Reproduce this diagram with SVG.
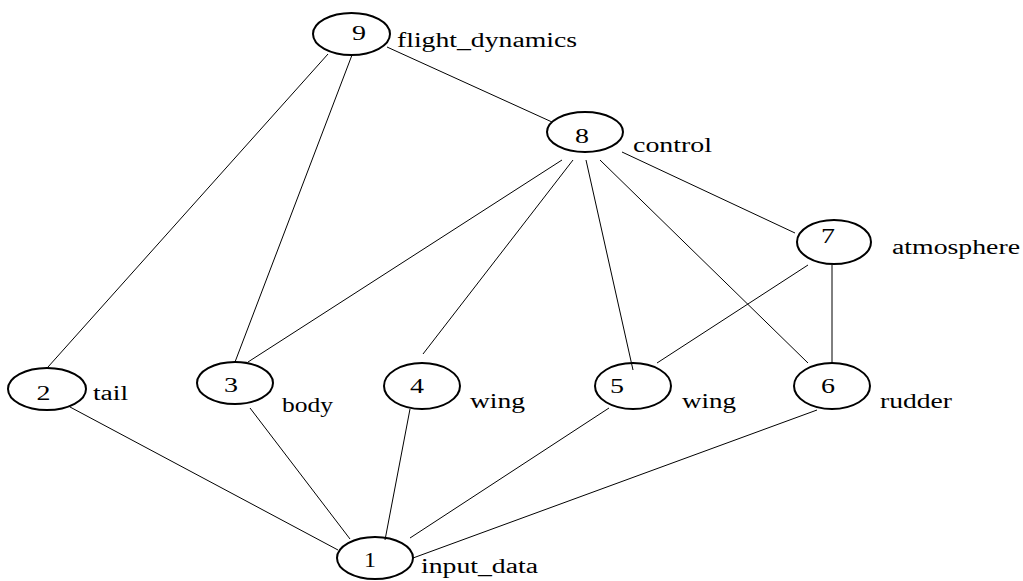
<svg xmlns="http://www.w3.org/2000/svg" width="1023" height="581" viewBox="0 0 1023 581">
<style>
.n ellipse{fill:none;stroke:#000;stroke-width:2}
.e line{stroke:#000;stroke-width:1}
text{font-family:"Liberation Serif","Times New Roman",serif;font-size:20px;fill:#000}
.d{text-anchor:middle}
</style>
<rect width="1023" height="581" fill="#fff"/>
<g class="e" id="edges">
<line x1="328" y1="54" x2="48" y2="367"/>
<line x1="352" y1="55" x2="235" y2="362"/>
<line x1="387" y1="47" x2="552" y2="122"/>
<line x1="562" y1="160" x2="248" y2="362"/>
<line x1="573" y1="160" x2="423" y2="354"/>
<line x1="586" y1="160" x2="633" y2="370"/>
<line x1="600" y1="160" x2="808" y2="363"/>
<line x1="622" y1="152" x2="795" y2="233"/>
<line x1="808" y1="265" x2="657" y2="363"/>
<line x1="832" y1="265" x2="832" y2="362"/>
<line x1="70" y1="407" x2="338" y2="550"/>
<line x1="250" y1="408" x2="350" y2="539"/>
<line x1="410" y1="409" x2="385" y2="540"/>
<line x1="609" y1="408" x2="410" y2="538"/>
<line x1="817" y1="410" x2="413" y2="558"/>
</g>
<g class="n" id="node9"><ellipse cx="351.5" cy="34" rx="38.5" ry="21"/><text class="d" x="359" y="40" textLength="14" lengthAdjust="spacingAndGlyphs">9</text><text x="397" y="47" textLength="180" lengthAdjust="spacingAndGlyphs">flight_dynamics</text></g>
<g class="n" id="node8"><ellipse cx="585" cy="132" rx="38" ry="20"/><text class="d" x="582" y="143" textLength="14" lengthAdjust="spacingAndGlyphs">8</text><text x="633" y="152" textLength="79" lengthAdjust="spacingAndGlyphs">control</text></g>
<g class="n" id="node7"><ellipse cx="834" cy="242" rx="37" ry="22"/><text class="d" x="828" y="243" textLength="14" lengthAdjust="spacingAndGlyphs">7</text><text x="892" y="254" textLength="128" lengthAdjust="spacingAndGlyphs">atmosphere</text></g>
<g class="n" id="node2"><ellipse cx="47" cy="389" rx="39" ry="21"/><text class="d" x="43.5" y="400" textLength="14" lengthAdjust="spacingAndGlyphs">2</text><text x="93" y="400" textLength="35" lengthAdjust="spacingAndGlyphs">tail</text></g>
<g class="n" id="node3"><ellipse cx="235" cy="383" rx="38" ry="21"/><text class="d" x="231" y="392" textLength="14" lengthAdjust="spacingAndGlyphs">3</text><text x="282" y="412" textLength="51" lengthAdjust="spacingAndGlyphs">body</text></g>
<g class="n" id="node4"><ellipse cx="422" cy="386" rx="38" ry="23"/><text class="d" x="417" y="393" textLength="14" lengthAdjust="spacingAndGlyphs">4</text><text x="470" y="408" textLength="55" lengthAdjust="spacingAndGlyphs">wing</text></g>
<g class="n" id="node5"><ellipse cx="633" cy="386" rx="38" ry="23"/><text class="d" x="617" y="393" textLength="14" lengthAdjust="spacingAndGlyphs">5</text><text x="682" y="408" textLength="54" lengthAdjust="spacingAndGlyphs">wing</text></g>
<g class="n" id="node6"><ellipse cx="832" cy="386" rx="38" ry="23"/><text class="d" x="828" y="393" textLength="14" lengthAdjust="spacingAndGlyphs">6</text><text x="880" y="408" textLength="72" lengthAdjust="spacingAndGlyphs">rudder</text></g>
<g class="n" id="node1"><ellipse cx="375" cy="558" rx="38" ry="21"/><text class="d" x="370" y="567" textLength="12" lengthAdjust="spacingAndGlyphs">1</text><text x="421" y="573" textLength="117" lengthAdjust="spacingAndGlyphs">input_data</text></g>
</svg>
